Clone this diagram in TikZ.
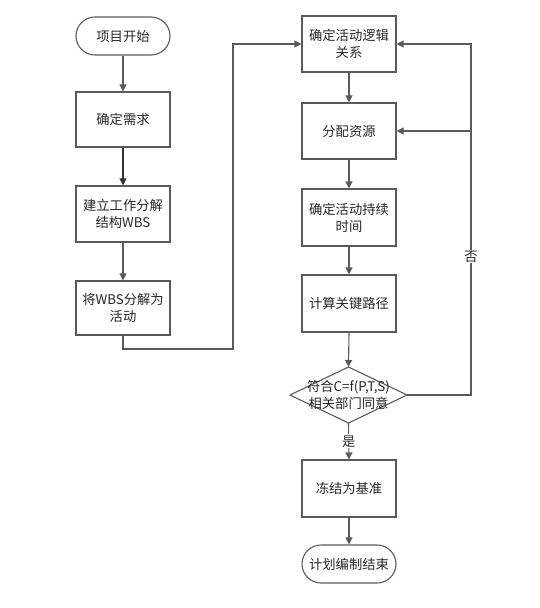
\documentclass[tikz,border=0pt]{standalone}
\usepackage{fontspec}
\setmainfont{Noto Sans CJK SC}
\usetikzlibrary{arrows.meta,shapes.geometric}
\definecolor{edge}{HTML}{5A5A5A}
\tikzset{
  x=1pt,y=-1pt,
  every node/.style={font=\fontsize{13.3pt}{17pt}\selectfont, text=black!85},
  box/.style={draw=edge, line width=1.1pt, minimum width=94pt, align=center, inner sep=2pt},
  term/.style={draw=edge, line width=1.1pt, rounded corners=19pt, minimum width=94pt, minimum height=38pt, align=center},
  dectext/.style={align=center, inner sep=0pt},
  decshape/.style={draw=edge, line width=1.1pt},
  conn/.style={draw=edge, line width=1.1pt, -{Triangle[length=7pt,width=7pt]}},
  plain/.style={draw=edge, line width=1.1pt},
  lbl/.style={fill=white, inner sep=1pt}
}
\begin{document}
\begin{tikzpicture}
\useasboundingbox (0,0) rectangle (540,608);
% left column
\node[term] (start) at (123,36) {项目开始};
\node[box, minimum height=55pt] (req) at (123,119.5) {确定需求};
\node[box, minimum height=56pt] (wbs) at (123,214) {建立工作分解\\结构WBS};
\node[box, minimum height=54pt] (act) at (123,308) {将WBS分解为\\活动};
% right column
\node[box, minimum height=56pt] (logic) at (349,44) {确定活动逻辑\\关系};
\node[box, minimum height=56pt] (res) at (349,131) {分配资源};
\node[box, minimum height=57pt] (dur) at (349,217.5) {确定活动持续\\时间};
\node[box, minimum height=57pt] (cp) at (349,303.5) {计算关键路径};
% decision diamond
\coordinate (chkN) at (348.5,367);
\coordinate (chkS) at (348.5,423);
\coordinate (chkE) at (407,395);
\coordinate (chkW) at (290,395);
\draw[decshape] (chkN) -- (chkE) -- (chkS) -- (chkW) -- cycle;
\node[dectext] (chk) at (348.5,395) {符合C=f(P,T,S)\\[0pt]相关部门同意};
\node[box, minimum height=57pt] (frz) at (349,488.5) {冻结为基准};
\node[term] (end) at (349,564) {计划编制结束};
% coordinates
\coordinate (c1) at (123,349);
\coordinate (c2) at (233,349);
\coordinate (c3) at (233,44);
\coordinate (r1) at (471,395);
\coordinate (r2) at (471,131);
\coordinate (r3) at (471,44);
% connectors
\draw[conn] (start) -- (req);
\draw[conn, draw=black!80] (req) -- (wbs);
\draw[conn] (wbs) -- (act);
\draw[conn] (act.south) -- (c1) -- (c2) -- (c3) -- (logic.west);
\draw[conn] (logic) -- (res);
\draw[conn] (res) -- (dur);
\draw[conn] (dur) -- (cp);
\draw[conn] (cp.south) -- (chkN);
\draw[conn] (chkS) -- node[lbl, pos=0.5] (yes) {是} (frz.north);
\draw[conn] (frz) -- (end);
\draw[plain] (chkE) -- (r1) -- node[lbl, pos=0.525] (no) {否} (r2);
\draw[conn] (r2) -- (r3) -- (logic.east);
\draw[conn] (r2) -- (res.east);
\end{tikzpicture}
\end{document}
